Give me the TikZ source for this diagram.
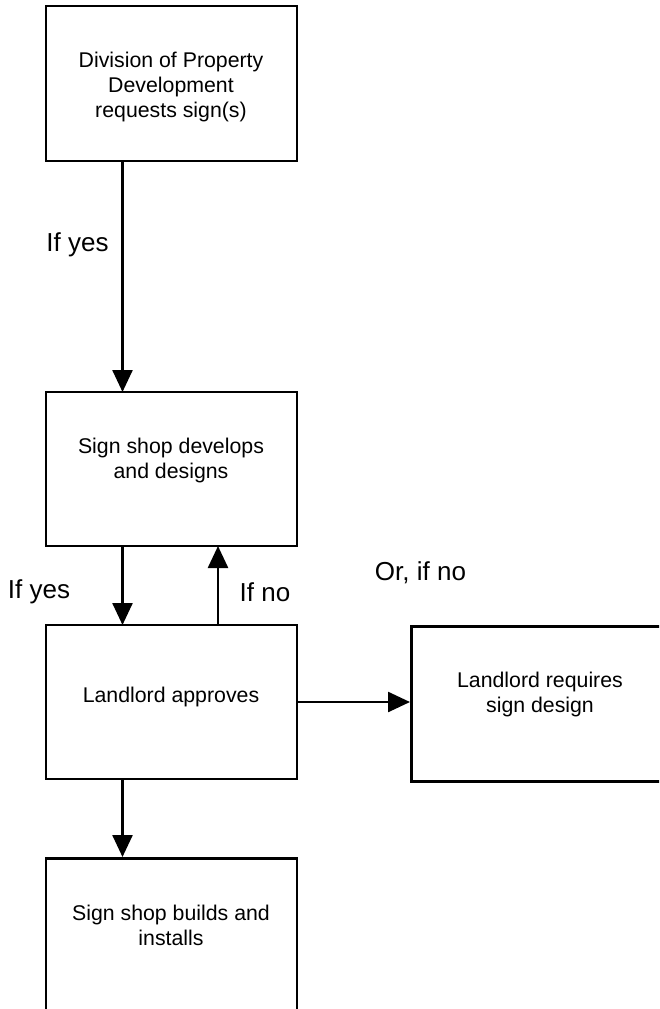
\documentclass[tikz,border=0pt]{standalone}
\usepackage{fontspec}
\setmainfont{Liberation Sans}
\usetikzlibrary{arrows.meta}
\begin{document}
\begin{tikzpicture}[x=1pt,y=-1pt,
  box/.style={draw,line width=2.6pt,rectangle,inner sep=0pt},
  btext/.style={align=center,font=\fontsize{21.3}{25}\selectfont,inner sep=0pt},
  lbl/.style={font=\fontsize{26}{30}\selectfont,inner sep=0pt},
  conn/.style={line width=2.5pt,-{Triangle[width=20pt,length=22pt]}}]
\useasboundingbox (0,0) rectangle (659,1009);
\fill[white] (0,0) rectangle (659,1009);
\clip (0,0) rectangle (659,1009);
% boxes
\node[box,minimum width=251pt,minimum height=155pt] (b1) at (171.5,83.5) {};
\node[box,minimum width=251pt,minimum height=154pt] (b2) at (171.5,469) {};
\node[box,minimum width=251pt,minimum height=154pt] (b3) at (171.5,702) {};
\node[box,minimum width=290pt,minimum height=155pt,anchor=north west] (b4) at (410,625) {};
\node[box,minimum width=251pt,minimum height=200pt,anchor=north] (b5) at (171.5,857) {};
% texts
\node[btext] (t1) at (171,87) {Division of Property\\Development\\requests sign(s)};
\node[btext] (t2) at (171,460) {Sign shop develops\\and designs};
\node[btext] (t3) at (171,697) {Landlord approves};
\node[btext] (t4) at (540,694) {Landlord requires\\sign design};
\node[btext] (t5) at (171,925) {Sign shop builds and\\installs};
% connectors
\coordinate (c1s) at (122.5,161);
\coordinate (c1e) at (122.5,392);
\draw[conn] (c1s) -- (c1e);
\coordinate (c2s) at (122.5,546);
\coordinate (c2e) at (122.5,625);
\draw[conn] (c2s) -- (c2e);
\coordinate (c3s) at (218,625);
\coordinate (c3e) at (218,546);
\draw[conn] (c3s) -- (c3e);
\coordinate (c4s) at (297,702);
\coordinate (c4e) at (410,702);
\draw[conn] (c4s) -- (c4e);
\coordinate (c5s) at (122.5,779);
\coordinate (c5e) at (122.5,857);
\draw[conn] (c5s) -- (c5e);
% labels
\node[lbl] (l1) at (77.5,245) {If yes};
\node[lbl] (l2) at (39,592) {If yes};
\node[lbl] (l3) at (265,592) {If no};
\node[lbl] (l4) at (420.5,573) {Or, if no};
\end{tikzpicture}
\end{document}
